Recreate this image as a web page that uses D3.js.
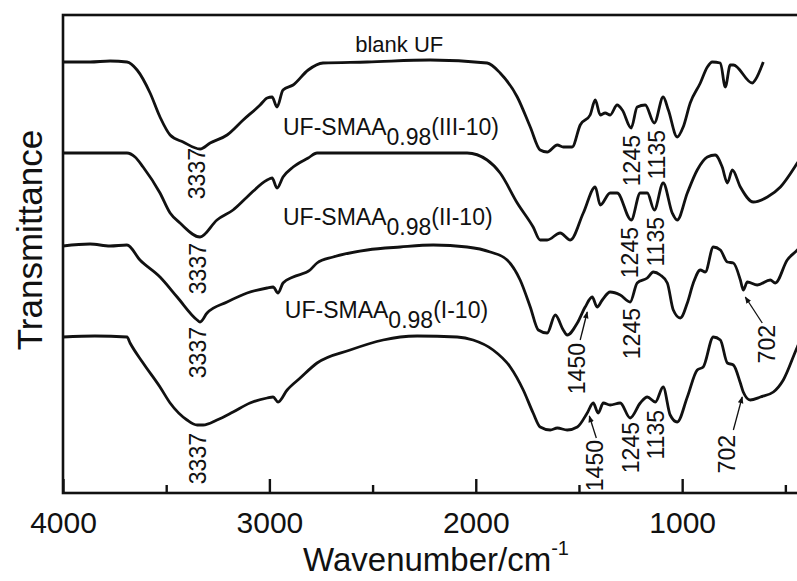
<!DOCTYPE html>
<html>
<head>
<meta charset="utf-8">
<script src="https://cdn.jsdelivr.net/npm/d3@7/dist/d3.min.js"></script>
<style>
  html, body { margin: 0; padding: 0; background: #fff; }
  svg { display: block; font-family: "Liberation Sans", Arial, sans-serif; }
</style>
</head>
<body>
<svg id="chart" width="797" height="581"></svg>
<script>
// ---- data (transmittance in arbitrary units, curves vertically offset) ----
const xTicksMajor = [4000, 3000, 2000, 1000];
const xTicksMinor = [3500, 2500, 1500, 500];

const blankWn = [4000,3869,3772,3690,3641,3578,3530,3481,3418,3336,3287,3205,3127,3045,3011,2987,2963,2934,2885,2812,2740,2526,2221,1945,1882,1799,1736,1688,1654,1605,1576,1533,1494,1446,1421,1397,1373,1349,1315,1290,1247,1218,1179,1135,1092,1067,1024,995,961,912,878,854,815,791,767,752,660,646,607];
const blankT  = [431,431,432,431,423,400,376,358,351,344,350,358,373,388,395,396,386,403,408,423,430,431,433,430,420,396,366,343,341,348,346,346,368,378,393,378,380,378,388,383,365,386,388,370,396,383,356,366,390,410,426,431,430,406,428,428,410,413,431];

const iii10Wn = [4000,3690,3651,3612,3530,3481,3433,3336,3254,3176,3108,3011,2987,2963,2934,2885,2812,2769,2691,2173,2042,1945,1882,1799,1722,1688,1654,1591,1542,1479,1421,1397,1349,1315,1247,1203,1169,1135,1092,1048,1024,975,927,878,840,806,781,757,718,655,587,524,442,403];
const iii10T  = [340,340,336,326,300,280,270,256,273,283,296,313,315,305,316,326,335,340,340,340,340,333,320,290,266,253,253,260,253,280,306,288,300,300,273,300,300,283,310,280,273,300,323,336,338,326,310,323,306,291,296,306,330,343];

const ii10Wn = [4000,3869,3772,3690,3627,3530,3447,3350,3336,3302,3205,3108,3011,2982,2958,2934,2885,2803,2769,2691,2526,2366,2206,2042,1930,1848,1785,1736,1697,1654,1615,1576,1557,1508,1470,1436,1412,1387,1349,1300,1252,1218,1169,1140,1106,1072,1043,1009,975,946,912,888,849,815,781,752,718,704,684,636,573,549,491,442,403];
const ii10T  = [247,249,247,248,233,216,196,173,171,180,191,200,205,206,200,210,216,223,230,236,243,246,248,246,241,233,213,186,163,160,178,163,158,170,186,196,186,193,201,198,191,210,215,221,218,210,183,175,190,210,223,221,246,243,231,230,213,203,211,208,213,210,233,243,253];

const i10Wn = [4000,3845,3690,3675,3612,3530,3481,3399,3350,3321,3254,3176,3094,3011,2982,2958,2914,2851,2769,2609,2449,2366,2284,2090,2013,1916,1833,1770,1722,1688,1639,1605,1557,1508,1460,1431,1407,1382,1349,1300,1252,1203,1169,1130,1092,1058,1024,975,927,898,849,815,781,752,718,704,670,621,558,510,442,403];
const i10T  = [156,157,156,150,130,106,90,73,68,68,73,81,90,95,96,91,103,115,130,143,153,156,157,156,153,143,126,103,80,66,63,65,63,66,80,90,80,90,88,90,75,90,96,91,106,78,71,96,123,126,156,153,130,128,110,101,93,96,101,113,146,163];

const seriesNames = ["blank UF", "UF-SMAA0.98(III-10)", "UF-SMAA0.98(II-10)", "UF-SMAA0.98(I-10)"];

// peak labels: text, label centre wavenumber, label top (T units)
const peakText  = ["3337","1245","1135", "3337","1245","1135", "3337","1450","1245","702", "3337","1450","1245","1135","702"];
const peakWn    = [3350,1242,1121, 3346,1252,1126, 3346,1508,1242,587, 3346,1421,1247,1126,781];
const peakTop   = [345,358,363, 250,266,276, 166,150,185,168, 60,53,71,83,58];

// arrows: from (wn,T) to (wn,T)
const arrowFromWn = [1494, 612, 1416, 752];
const arrowFromT  = [153, 170, 55, 63];
const arrowToWn   = [1460, 694, 1450, 709];
const arrowToT    = [181, 196, 77, 96];

// curve name labels: [main, subscript, suffix], anchor wavenumber, baseline T
const nameMain = ["blank UF", "UF-SMAA", "UF-SMAA", "UF-SMAA"];
const nameSub  = ["", "0.98", "0.98", "0.98"];
const nameSuf  = ["", "(III-10)", "(II-10)", "(I-10)"];
const nameWn   = [2371, 2934, 2934, 2925];
const nameT    = [441, 358, 268, 175];

// ---- layout ----
const svg = d3.select("#chart");
const L = 63, T = 15, B = 493, R = 806;
const x = d3.scaleLinear().domain([4000, 400]).range([L, R]);
const y = d3.scaleLinear().domain([0, 478]).range([B, T]);

svg.append("defs").append("clipPath").attr("id", "clip")
  .append("rect").attr("x", L).attr("y", T).attr("width", R - L).attr("height", B - T);

const marker = svg.select("defs").append("marker")
  .attr("id", "arr").attr("viewBox", "0 0 10 10").attr("refX", 9).attr("refY", 5)
  .attr("markerWidth", 7).attr("markerHeight", 7).attr("markerUnits", "userSpaceOnUse")
  .attr("orient", "auto");
marker.append("path").attr("d", "M0,1 L10,5 L0,9 Z").attr("fill", "#111");

// curves
const series = [[blankWn, blankT], [iii10Wn, iii10T], [ii10Wn, ii10T], [i10Wn, i10T]];
const line = d3.line().x(d => x(d[0])).y(d => y(d[1])).curve(d3.curveMonotoneX);
const g = svg.append("g").attr("clip-path", "url(#clip)");
series.forEach(([wn, t]) => {
  g.append("path").datum(wn.map((w, i) => [w, t[i]]))
    .attr("d", line).attr("fill", "none").attr("stroke", "#111")
    .attr("stroke-width", 2.8).attr("stroke-linejoin", "round");
});

// axes
const axMajor = d3.axisBottom(x).tickValues(xTicksMajor).tickSizeInner(-14).tickSizeOuter(0).tickPadding(19).tickFormat(d3.format("d"));
const axMinor = d3.axisBottom(x).tickValues(xTicksMinor).tickSizeInner(-8).tickSizeOuter(0).tickFormat("");
const gx = svg.append("g").attr("transform", `translate(0,${B})`).call(axMajor);
const gx2 = svg.append("g").attr("transform", `translate(0,${B})`).call(axMinor);
[gx, gx2].forEach(a => {
  a.select(".domain").remove();
  a.selectAll(".tick line").attr("stroke", "#111").attr("stroke-width", 2.4);
});
gx.selectAll(".tick text").attr("font-size", 30).attr("fill", "#111")
  .attr("font-family", "'Liberation Sans', Arial, sans-serif");

// frame
svg.append("rect").attr("x", L).attr("y", T).attr("width", R - L).attr("height", B - T)
  .attr("fill", "none").attr("stroke", "#111").attr("stroke-width", 2.6);

// axis titles
const xt = svg.append("text").attr("x", 436).attr("y", 571).attr("text-anchor", "middle")
  .attr("font-size", 33).attr("fill", "#111");
xt.append("tspan").text("Wavenumber/cm");
xt.append("tspan").attr("font-size", 20).attr("dy", -16).text("-1");

svg.append("text").attr("transform", "translate(42,240) rotate(-90)")
  .attr("text-anchor", "middle").attr("font-size", 35).attr("fill", "#111").text("Transmittance");

// curve name labels
nameMain.forEach((m, i) => {
  const t = svg.append("text").attr("x", x(nameWn[i])).attr("y", y(nameT[i]))
    .attr("font-size", i === 0 ? 22 : 23).attr("fill", "#111")
    .attr("text-anchor", i === 0 ? "middle" : "start");
  t.append("tspan").text(m);
  if (nameSub[i]) {
    t.append("tspan").attr("dy", 10).attr("font-size", 23).text(nameSub[i]);
    t.append("tspan").attr("dy", -10).text(nameSuf[i]);
  }
});

// peak labels (rotated)
peakText.forEach((txt, i) => {
  svg.append("text")
    .attr("transform", `translate(${x(peakWn[i]) + 8},${y(peakTop[i])}) rotate(-90)`)
    .attr("text-anchor", "end").attr("font-size", 23).attr("fill", "#111").text(txt);
});

// arrows
arrowFromWn.forEach((w, i) => {
  svg.append("line")
    .attr("x1", x(w)).attr("y1", y(arrowFromT[i]))
    .attr("x2", x(arrowToWn[i])).attr("y2", y(arrowToT[i]))
    .attr("stroke", "#111").attr("stroke-width", 1.3).attr("marker-end", "url(#arr)");
});
</script>
</body>
</html>
